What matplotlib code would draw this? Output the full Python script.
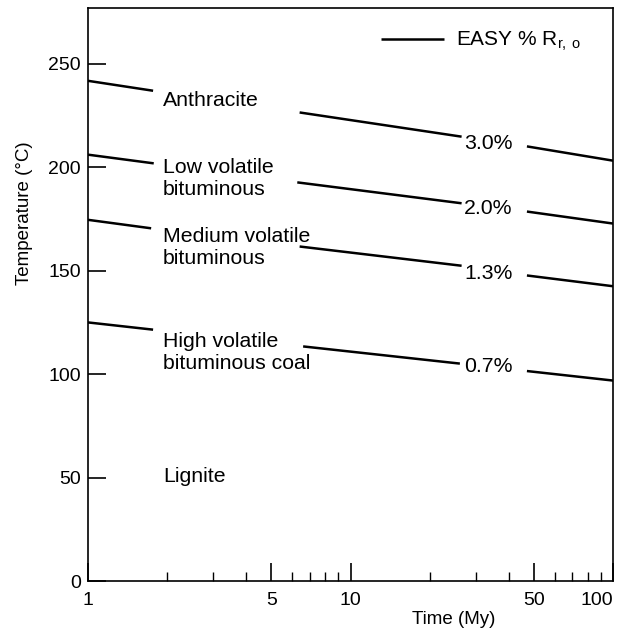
import matplotlib
matplotlib.use('Agg')
import matplotlib.pyplot as plt
from matplotlib.ticker import FixedLocator, NullFormatter

plt.rcParams['font.family'] = ['Liberation Sans', 'DejaVu Sans']
plt.rcParams['mathtext.default'] = 'regular'

# EASY %Ro iso-lines, three pieces each (broken where labels sit)
t_30 = [1, 1.77, 6.4, 26.5, 47, 100]
T_30 = [241.8, 237.0, 226.5, 214.8, 210.1, 203.2]
t_20 = [1, 1.78, 6.27, 26.5, 47, 100]
T_20 = [206.1, 201.9, 192.7, 182.6, 178.6, 172.8]
t_13 = [1, 1.74, 6.4, 26.5, 47, 100]
T_13 = [174.6, 170.5, 161.7, 152.4, 147.7, 142.5]
t_07 = [1, 1.77, 6.6, 26.1, 47, 100]
T_07 = [125.0, 121.5, 113.4, 105.1, 101.5, 96.9]

ro_labels = ['3.0%', '2.0%', '1.3%', '0.7%']
ro_label_T = [211.5, 180.1, 148.7, 103.5]
ro_label_t = 33.5

rank_labels = ['Anthracite', 'Low volatile\nbituminous', 'Medium volatile\nbituminous',
               'High volatile\nbituminous coal', 'Lignite']
rank_label_T = [232.3, 194.6, 161.3, 110.6, 50.4]
rank_label_t = 1.93

x_major = [1, 5, 10, 50, 100]
x_minor = [2, 3, 4, 6, 7, 8, 9, 20, 30, 40, 60, 70, 80, 90]
y_ticks = [0, 50, 100, 150, 200, 250]

fig = plt.figure(figsize=(6.24, 6.35), dpi=100)
ax = fig.add_axes([88 / 624, 1 - 581 / 635, 525 / 624, 573 / 635])

lines = [(t_30, T_30), (t_20, T_20), (t_13, T_13), (t_07, T_07)]
for i, (t, T) in enumerate(lines):
    for k in range(0, 6, 2):
        ax.plot(t[k:k + 2], T[k:k + 2], color='black', lw=1.8,
                solid_capstyle='butt', label='EASY % R$_{r,\\,o}$' if (i == 0 and k == 0) else None)

for lab, T in zip(ro_labels, ro_label_T):
    ax.text(ro_label_t, T, lab, ha='center', va='center', fontsize=15.3)

for lab, T in zip(rank_labels, rank_label_T):
    ax.text(rank_label_t, T, lab, ha='left', va='center', fontsize=15.3, linespacing=1.2)

ax.set_xscale('log')
ax.set_xlim(1, 100)
ax.set_ylim(0, 277)
ax.xaxis.set_major_locator(FixedLocator(x_major))
ax.xaxis.set_minor_locator(FixedLocator(x_minor))
ax.xaxis.set_minor_formatter(NullFormatter())
ax.set_xticklabels([str(v) for v in x_major])
ax.get_xticklabels()[-1].set_ha('right')
ax.set_yticks(y_ticks)

ax.tick_params(axis='both', which='major', direction='in', length=13, width=1.2,
               labelsize=14, top=False, right=False)
ax.tick_params(axis='x', which='major', pad=8)
ax.tick_params(axis='y', which='major', pad=5)
ax.tick_params(axis='x', which='minor', direction='in', length=6.5, width=1.0, top=False)
for s in ax.spines.values():
    s.set_linewidth(1.2)

ax.set_xlabel('Time (My)', fontsize=13.5)
ax.xaxis.set_label_coords(0.697, -0.052)
ax.set_ylabel('Temperature (°C)', fontsize=13.5)
ax.yaxis.set_label_coords(-0.105, 0.642)

ax.legend(loc='center left', bbox_to_anchor=(0.559, 0.941), frameon=False,
          handlelength=3.0, handletextpad=0.6, borderpad=0, borderaxespad=0,
          fontsize=15)

fig.savefig('out.png', dpi=100)
